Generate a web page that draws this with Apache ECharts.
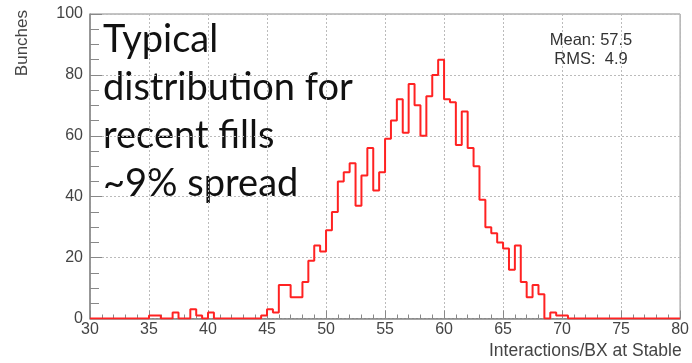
<!DOCTYPE html>
<html><head><meta charset="utf-8">
<script src="https://cdn.jsdelivr.net/npm/echarts@6/dist/echarts.min.js"></script>
<style>html,body{margin:0;padding:0;background:#fff}#c{width:692px;height:363px}</style>
</head><body><div id="c"></div>
<script>
// Histogram: 100 bins of width 0.5 from 30 to 80
const binStart = 30;
const binWidth = 0.5;
const counts = [
  0,0,0,0,0,0,0,0,0,0,
  1,1,0,0,2,0,0,3,1,0,
  2,0,0,0,0,0,0,0,0,1,
  3,2,11,11,7,7,12,19,24,22,
  29,35,45,48,51,37,47,56,42,48,
  59,65,72,61,77,70,60,73,80,85,
  72,71,57,68,56,50,39,30,28,25,
  23,16,24,12,7,11,8,0,2,1,
  1,0,0,0,0,0,0,0,0,0,
  0,0,0,0,0,0,0,0,0,0
];
const xTitle = 'Interactions/BX at Stable';
const yTitle = 'Bunches';
const statsLines = ['Mean: 57.5', 'RMS:  4.9'];
const noteLines = ['Typical', 'distribution for', 'recent fills', '~9% spread'];

const pts = counts.map((v, i) => [binStart + i * binWidth, v]);
pts.push([binStart + counts.length * binWidth, counts[counts.length - 1]]);

const chart = echarts.init(document.getElementById('c'), null, {renderer: 'canvas'});
const axisFont = 'Liberation Sans';
chart.setOption({
  animation: false,
  backgroundColor: '#fff',
  grid: {left: 90, top: 14, width: 592, height: 304.5, show: true, borderColor: '#888', borderWidth: 1, backgroundColor: 'transparent'},
  xAxis: {
    type: 'value', min: 30, max: 80, interval: 5,
    axisLine: {show: true, onZero: false, lineStyle: {color: '#888', width: 1.5}},
    axisTick: {show: true, inside: true, length: 8, lineStyle: {color: '#888'}},
    minorTick: {show: true, splitNumber: 5, length: 4, lineStyle: {color: '#888'}},
    splitLine: {show: true, lineStyle: {color: '#bbb', type: [2, 2], width: 1}},
    axisLabel: {show: true, fontFamily: axisFont, fontSize: 16, color: '#444', margin: 3, showMinLabel: true, showMaxLabel: true}
  },
  yAxis: {
    type: 'value', min: 0, max: 100, interval: 20,
    axisLine: {show: true, lineStyle: {color: '#888', width: 1.5}},
    axisTick: {show: true, inside: true, length: 12, lineStyle: {color: '#888'}},
    minorTick: {show: true, splitNumber: 4, length: 9, lineStyle: {color: '#888'}},
    splitLine: {show: true, lineStyle: {color: '#bbb', type: [2, 2], width: 1}},
    axisLabel: {show: true, fontFamily: axisFont, fontSize: 16, color: '#444', margin: 7}
  },
  series: [{
    type: 'line', data: pts, step: 'end', symbol: 'none',
    lineStyle: {color: '#ff2222', width: 2}, z: 5
  }],
  graphic: [
    {type: 'text', left: 489, top: 342, style: {text: xTitle, font: '17.5px "Liberation Sans"', fill: '#444'}},
    {type: 'text', x: 14, y: 10, rotation: Math.PI / 2, style: {text: yTitle, font: '17px "Liberation Sans"', fill: '#444', align: 'right', verticalAlign: 'top'}},
    {type: 'text', x: 591, y: 31, style: {text: statsLines.join('\n'), font: '16.5px "Liberation Sans"', fill: '#333', align: 'center', lineHeight: 19}},
    {type: 'text', x: 103, y: 16, style: {text: noteLines.join('\n'), font: '38px Lato', fill: '#111', lineHeight: 48}}
  ]
});
</script></body></html>
